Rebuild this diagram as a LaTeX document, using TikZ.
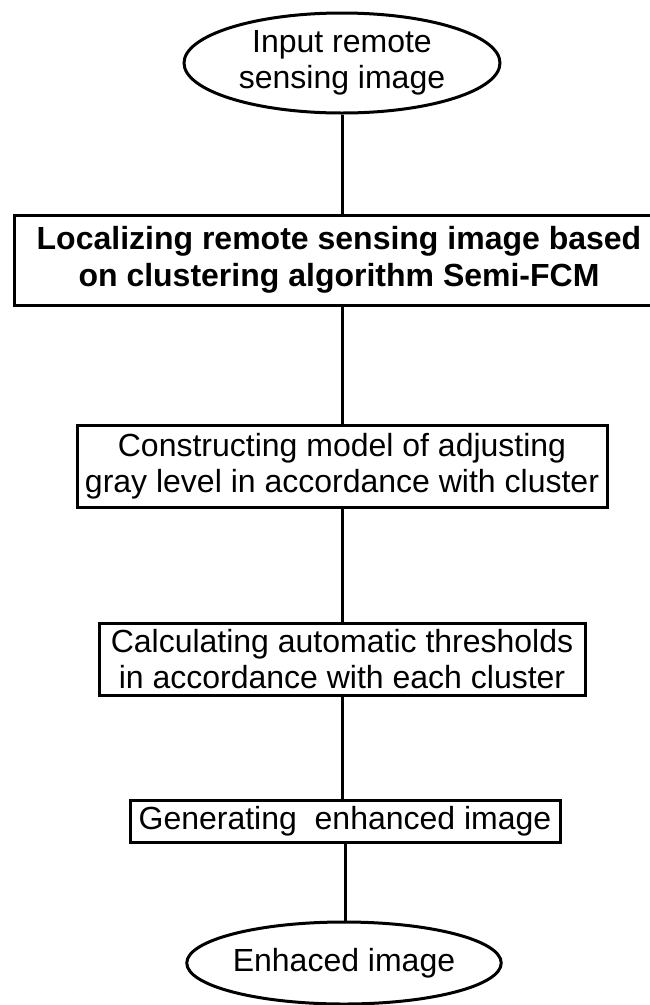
\documentclass[tikz,border=0pt]{standalone}
\usepackage{fontspec}
\setmainfont{Liberation Sans}
\usetikzlibrary{shapes.geometric}
\begin{document}
\begin{tikzpicture}[x=1pt,y=-1pt,
  every node/.style={font=\fontsize{32}{36}\selectfont, align=center, inner sep=0pt},
  ell/.style={ellipse, draw, line width=3pt},
  stepbox/.style={rectangle, draw, line width=3pt},
  conn/.style={line width=3pt}]
\useasboundingbox (0,0) rectangle (649,1005);
\node[ell, minimum width=316pt, minimum height=100pt] (in) at (342,63) {Input remote\\sensing image};
\node[stepbox, minimum width=650pt, minimum height=90pt, font=\fontsize{32}{37}\selectfont\bfseries] (b1) at (339,260) {Localizing remote sensing image based\\on clustering algorithm Semi-FCM};
\node[stepbox, minimum width=530pt, minimum height=82pt] (b2) at (342,466) {Constructing model of adjusting\\gray level in accordance with cluster};
\node[stepbox, minimum width=486pt, minimum height=72pt] (b3) at (342,659) {Calculating automatic thresholds\\in accordance with each cluster};
\node[stepbox, minimum width=430pt, minimum height=42pt] (b4) at (345,821) {Generating\ \ enhanced image};
\node[ell, minimum width=278pt, minimum height=82pt] (out) at (344,963) {Enhaced image};
\draw[conn] (in.south) -- (in.south |- b1.north);
\draw[conn] (b2.north |- b1.south) -- (b2.north);
\draw[conn] (b2.south) -- (b2.south |- b3.north);
\draw[conn] (b3.south) -- (b3.south |- b4.north);
\draw[conn] (b4.south) -- (b4.south |- out.north);
\end{tikzpicture}
\end{document}
